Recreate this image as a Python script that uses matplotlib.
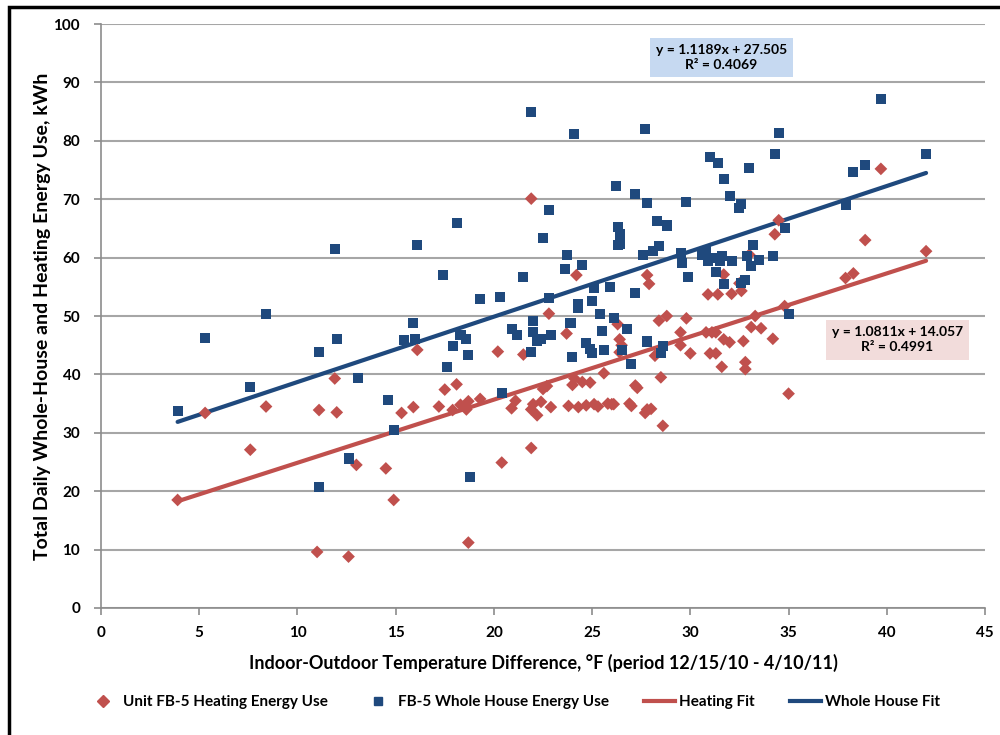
import matplotlib
matplotlib.use("Agg")
import matplotlib.pyplot as plt
from matplotlib.patches import Rectangle
from matplotlib.lines import Line2D
import numpy as np

plt.rcParams['font.family'] = ['Lato', 'DejaVu Sans']

# Whole house energy use (blue squares)
house_x = [3.9, 5.3, 7.6, 8.4, 11.1, 11.1, 11.9, 12.0, 12.6, 13.1, 14.6, 14.9, 15.4, 15.9, 16.0, 16.1,
           17.4, 17.6, 17.9, 18.1, 18.3, 18.6, 18.7, 18.8, 19.3, 20.3, 20.4, 20.9, 21.2, 21.5, 21.9, 21.9,
           22.0, 22.0, 22.2, 22.4, 22.5, 22.8, 22.8, 22.9, 23.6, 23.7, 23.9, 24.0, 24.1, 24.3, 24.3, 24.5,
           24.7, 24.9, 25.0, 25.0, 25.1, 25.4, 25.5, 25.6, 25.9, 26.2, 26.1, 26.3, 26.3, 26.4, 26.4, 26.5,
           26.8, 27.0, 27.2, 27.2, 27.6, 27.7, 27.8, 27.8, 27.8, 28.1, 28.3, 28.4, 28.5, 28.6, 28.8, 29.5,
           29.6, 29.8, 29.9, 30.6, 30.8, 30.9, 31.0, 31.2, 31.3, 31.4, 31.5, 31.6, 31.7, 31.7, 32.0, 32.1,
           32.5, 32.6, 32.6, 32.8, 32.9, 33.0, 33.1, 33.2, 33.5, 34.2, 34.3, 34.5, 34.8, 35.0, 37.9, 38.3,
           38.9, 39.7, 42.0]
house_y = [33.8, 46.2, 37.8, 50.4, 43.8, 20.7, 61.4, 46.1, 25.6, 39.4, 35.6, 30.4, 45.9, 48.8, 46.1, 62.2,
           57.1, 41.3, 44.8, 66.0, 46.8, 46.0, 43.3, 22.5, 52.9, 53.2, 36.8, 47.8, 46.8, 56.7, 85.0, 43.8,
           47.2, 49.2, 45.8, 46.0, 63.3, 68.1, 53.1, 46.8, 58.0, 60.5, 48.8, 42.9, 81.2, 51.4, 52.0, 58.8,
           45.3, 44.3, 52.6, 43.6, 54.8, 50.4, 47.4, 44.1, 55.0, 72.2, 49.7, 65.3, 62.1, 62.3, 64.0, 44.1,
           47.7, 41.7, 70.9, 54.0, 60.5, 82.0, 45.6, 45.7, 69.4, 61.1, 66.3, 62.0, 43.6, 44.8, 65.5, 60.8,
           59.0, 69.6, 56.6, 60.5, 61.1, 59.5, 77.3, 59.9, 57.6, 76.2, 59.5, 60.3, 73.4, 55.4, 70.5, 59.5,
           68.5, 69.1, 55.7, 56.2, 60.2, 75.4, 58.5, 62.1, 59.6, 60.2, 77.8, 81.4, 65.1, 50.3, 69.0, 74.7,
           75.9, 87.1, 77.8]

# Unit FB-5 heating energy use (red diamonds)
heat_x = [3.9, 5.3, 7.6, 8.4, 11.1, 11.0, 11.9, 12.0, 12.6, 13.0, 14.5, 14.9, 15.3, 15.9, 16.1, 17.2,
          17.5, 17.9, 18.1, 18.3, 18.6, 18.7, 18.7, 19.3, 20.2, 20.4, 20.9, 21.1, 21.5, 21.9, 21.9, 21.9,
          22.0, 22.2, 22.4, 22.5, 22.7, 22.8, 22.9, 23.7, 23.8, 24.0, 24.1, 24.2, 24.3, 24.5, 24.7, 24.9,
          25.1, 25.3, 25.6, 25.8, 26.0, 26.1, 26.3, 26.4, 26.5, 26.4, 26.9, 27.0, 27.2, 27.3, 27.7, 27.8,
          27.8, 27.9, 28.0, 28.2, 28.4, 28.5, 28.6, 28.8, 29.5, 29.5, 29.8, 30.0, 30.8, 30.9, 31.0, 31.1,
          31.3, 31.3, 31.4, 31.6, 31.7, 31.7, 32.0, 32.1, 32.5, 32.6, 32.7, 32.8, 32.8, 33.0, 33.1, 33.3,
          33.6, 34.2, 34.3, 34.5, 34.8, 35.0, 37.9, 38.3, 38.9, 39.7, 42.0]
heat_y = [18.5, 33.4, 27.1, 34.5, 33.9, 9.6, 39.3, 33.5, 8.8, 24.5, 23.9, 18.5, 33.4, 34.4, 44.2, 34.5,
          37.4, 33.9, 38.3, 34.8, 34.0, 35.4, 11.2, 35.8, 43.9, 24.9, 34.2, 35.5, 43.4, 70.1, 34.0, 27.4,
          34.9, 33.0, 35.3, 37.5, 38.0, 50.4, 34.4, 47.0, 34.6, 38.2, 39.3, 57.0, 34.4, 38.7, 34.7, 38.6,
          34.9, 34.5, 40.2, 35.0, 34.9, 34.9, 48.6, 46.0, 45.0, 43.8, 35.0, 34.6, 38.1, 37.7, 33.4, 34.0,
          57.0, 55.5, 34.1, 43.2, 49.2, 39.5, 31.2, 50.0, 45.0, 47.2, 49.6, 43.6, 47.2, 53.7, 43.6, 47.2,
          43.6, 47.2, 53.7, 41.3, 46.0, 57.1, 45.5, 53.8, 55.6, 54.3, 45.7, 40.9, 42.1, 60.5, 48.1, 50.0,
          47.9, 46.1, 64.0, 66.4, 51.7, 36.7, 56.5, 57.3, 63.0, 75.2, 61.1]

heat_fit = [1.0811, 14.057]
heat_r2 = 0.4991
house_fit = [1.1189, 27.505]
house_r2 = 0.4069

x_ticks = [0, 5, 10, 15, 20, 25, 30, 35, 40, 45]
y_ticks = [0, 10, 20, 30, 40, 50, 60, 70, 80, 90, 100]

blue = '#1F497D'
red = '#C0504D'
grid_c = '#A6A6A6'

fig = plt.figure(figsize=(10, 7.35), dpi=100)
ax = fig.add_axes([0.101, 0.1728, 0.884, 0.7945])

ax.set_xlim(0, 45)
ax.set_ylim(0, 100)
ax.set_xticks(x_ticks)
ax.set_yticks(y_ticks)
ax.yaxis.grid(True, color=grid_c, linewidth=1.5)
ax.set_axisbelow(True)
for s in ['top', 'right']:
    ax.spines[s].set_visible(False)
for s in ['left', 'bottom']:
    ax.spines[s].set_color('#8C8C8C')
    ax.spines[s].set_linewidth(1.2)
ax.tick_params(axis='both', colors='#8C8C8C', length=5, width=1.2, direction='out',
               labelcolor='black', labelsize=11)
for lab in ax.get_xticklabels() + ax.get_yticklabels():
    lab.set_fontweight('bold')
ax.tick_params(axis='x', pad=8)
ax.tick_params(axis='y', pad=10)

# fits across the data range
hx = np.array([min(heat_x), max(heat_x)])
bx = np.array([min(house_x), max(house_x)])
ax.plot(hx, np.polyval(heat_fit, hx), color=red, linewidth=3, solid_capstyle='round', zorder=3)
ax.plot(bx, np.polyval(house_fit, bx), color=blue, linewidth=3, solid_capstyle='round', zorder=3)

ax.scatter(heat_x, heat_y, marker='D', s=42, color=red, edgecolors='none', zorder=4)
ax.scatter(house_x, house_y, marker='s', s=52, color=blue, edgecolors='none', zorder=4)

ax.set_xlabel('Indoor-Outdoor Temperature Difference, °F (period 12/15/10 - 4/10/11)',
              fontsize=13, fontweight='bold', labelpad=10)
ax.set_ylabel('Total Daily Whole-House and Heating Energy Use, kWh',
              fontsize=14, fontweight='bold', labelpad=2)

# equation boxes
fig.text(0.7215, 0.922,
         f'y = {house_fit[0]}x + {house_fit[1]}\nR² = {house_r2}',
         ha='center', va='center', fontsize=10, fontweight='bold', linespacing=1.3,
         bbox=dict(boxstyle='square,pad=0.45', facecolor='#C6D9F1', edgecolor='none'))
fig.text(0.8975, 0.5375,
         f'y = {heat_fit[0]}x + {heat_fit[1]}\nR² = {heat_r2}',
         ha='center', va='center', fontsize=10, fontweight='bold', linespacing=1.3,
         bbox=dict(boxstyle='square,pad=0.45', facecolor='#F2DCDB', edgecolor='none'))

# legend
handles = [
    Line2D([], [], marker='D', color=red, linestyle='none', markersize=6),
    Line2D([], [], marker='s', color=blue, linestyle='none', markersize=6),
    Line2D([], [], color=red, linewidth=3),
    Line2D([], [], color=blue, linewidth=3),
]
labels = ['Unit FB-5 Heating Energy Use', 'FB-5 Whole House Energy Use', 'Heating Fit', 'Whole House Fit']
fig.legend(handles, labels, loc='center', bbox_to_anchor=(0.514, 0.045), ncol=4, frameon=False,
           prop=dict(size=11, weight='bold'), handlelength=2.0, handletextpad=0.3, columnspacing=2.3)

# outer chart border
fig.patches.append(Rectangle((0.0085, -0.05), 1.2, 1.041, transform=fig.transFigure,
                             fill=False, edgecolor='black', linewidth=2.5))

fig.savefig('out.png', dpi=100)
